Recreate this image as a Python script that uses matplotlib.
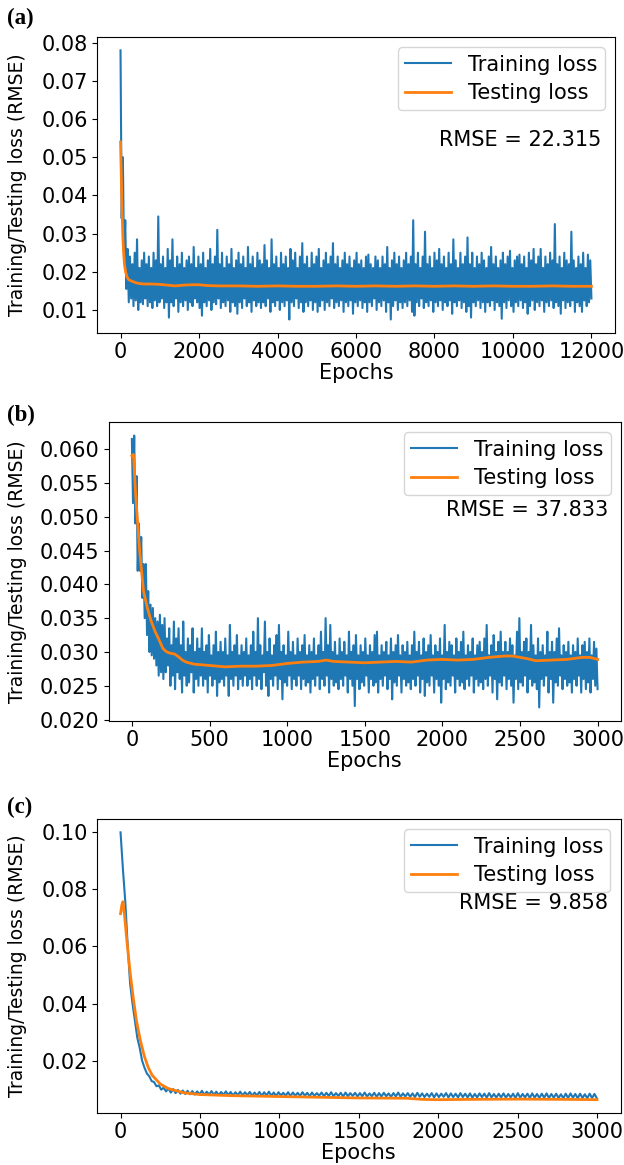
import numpy as np
import matplotlib
matplotlib.use("Agg")
import matplotlib.pyplot as plt

# (a) 12000 epochs: training loss given as alternating upper/lower swings
a_train_peaks = [
    0.078, 0.050, 0.0335, 0.026, 0.024, 0.022, 0.025, 0.0285, 0.021, 0.023,
    0.025, 0.022, 0.024, 0.021, 0.025, 0.023, 0.0345, 0.022, 0.024, 0.021,
    0.026, 0.023, 0.0285, 0.021, 0.024, 0.022, 0.025, 0.021, 0.023, 0.024,
    0.022, 0.0265, 0.021, 0.024, 0.022, 0.025, 0.021, 0.023, 0.026, 0.022,
    0.024, 0.031, 0.022, 0.025, 0.021, 0.024, 0.022, 0.026, 0.021, 0.023,
    0.025, 0.022, 0.024, 0.021, 0.0265, 0.022, 0.024, 0.021, 0.025, 0.023,
    0.022, 0.027, 0.023, 0.021, 0.0285, 0.022, 0.024, 0.021, 0.025, 0.022,
    0.024, 0.021, 0.026, 0.023, 0.025, 0.021, 0.024, 0.0275, 0.022, 0.024,
    0.021, 0.025, 0.022, 0.024, 0.026, 0.021, 0.023, 0.025, 0.022, 0.024,
    0.0275, 0.022, 0.024, 0.021, 0.023, 0.025, 0.022, 0.024, 0.021, 0.023,
    0.025, 0.022, 0.023, 0.021, 0.024, 0.0245, 0.022, 0.021, 0.024, 0.023,
    0.021, 0.024, 0.022, 0.0265, 0.021, 0.023, 0.025, 0.022, 0.024, 0.021,
    0.023, 0.025, 0.022, 0.024, 0.0335, 0.022, 0.025, 0.021, 0.024, 0.0305,
    0.022, 0.024, 0.021, 0.025, 0.023, 0.026, 0.022, 0.024, 0.021, 0.025,
    0.022, 0.0285, 0.023, 0.021, 0.025, 0.022, 0.024, 0.029, 0.022, 0.025,
    0.021, 0.024, 0.022, 0.025, 0.023, 0.021, 0.024, 0.0265, 0.022, 0.024,
    0.021, 0.023, 0.025, 0.022, 0.024, 0.0255, 0.021, 0.023, 0.024, 0.0245,
    0.022, 0.024, 0.021, 0.025, 0.023, 0.026, 0.022, 0.024, 0.026, 0.021,
    0.024, 0.022, 0.025, 0.023, 0.0325, 0.022, 0.024, 0.021, 0.025, 0.023,
    0.022, 0.0305, 0.023, 0.021, 0.024, 0.022, 0.025, 0.021, 0.0245, 0.023,
]
a_train_troughs = [
    0.034, 0.023, 0.0155, 0.012, 0.013, 0.011, 0.0125, 0.010, 0.012, 0.0115,
    0.013, 0.011, 0.012, 0.0105, 0.0125, 0.011, 0.012, 0.013, 0.0105, 0.012,
    0.008, 0.012, 0.011, 0.013, 0.0095, 0.012, 0.011, 0.0125, 0.010, 0.012,
    0.011, 0.013, 0.012, 0.0105, 0.0085, 0.012, 0.011, 0.0125, 0.010, 0.012,
    0.0115, 0.013, 0.0105, 0.012, 0.011, 0.0125, 0.0095, 0.012, 0.011, 0.009,
    0.012, 0.0105, 0.013, 0.011, 0.012, 0.0095, 0.0125, 0.011, 0.012, 0.0105,
    0.012, 0.011, 0.013, 0.0095, 0.012, 0.011, 0.0125, 0.010, 0.012, 0.011,
    0.0125, 0.0075, 0.012, 0.011, 0.013, 0.0105, 0.012, 0.0095, 0.012, 0.011,
    0.0125, 0.010, 0.012, 0.0095, 0.011, 0.0125, 0.010, 0.012, 0.011, 0.013,
    0.0105, 0.012, 0.011, 0.0125, 0.0095, 0.012, 0.011, 0.0125, 0.009, 0.012,
    0.011, 0.0125, 0.0105, 0.012, 0.0095, 0.012, 0.011, 0.013, 0.010, 0.012,
    0.011, 0.0125, 0.0095, 0.012, 0.0075, 0.011, 0.0125, 0.010, 0.012, 0.0105,
    0.012, 0.011, 0.0125, 0.0095, 0.0085, 0.012, 0.011, 0.013, 0.0105, 0.012,
    0.011, 0.0125, 0.0095, 0.012, 0.011, 0.0125, 0.010, 0.012, 0.011, 0.0125,
    0.009, 0.012, 0.011, 0.0125, 0.0105, 0.012, 0.0095, 0.011, 0.008, 0.012,
    0.011, 0.0125, 0.0105, 0.012, 0.0095, 0.012, 0.011, 0.0125, 0.010, 0.012,
    0.011, 0.0077, 0.012, 0.0105, 0.0125, 0.011, 0.0095, 0.012, 0.011, 0.0125,
    0.0105, 0.012, 0.009, 0.011, 0.0125, 0.010, 0.012, 0.011, 0.0125, 0.0095,
    0.012, 0.011, 0.0125, 0.0105, 0.012, 0.011, 0.009, 0.0125, 0.0105, 0.012,
    0.011, 0.0125, 0.0095, 0.012, 0.011, 0.0095, 0.0125, 0.011, 0.012, 0.013,
]
a_test_epochs = [0, 20, 40, 60, 80, 100, 130, 160, 200, 250, 300, 400, 500,
                 600, 800, 1000, 1200, 1400, 1600, 1800, 2000, 2200, 2500,
                 3000, 3500, 4000, 4500, 5000, 5500, 6000, 6500, 7000, 7500,
                 8000, 8500, 9000, 9500, 10000, 10500, 11000, 11500, 12000]
a_test = [0.054, 0.045, 0.036, 0.029, 0.025, 0.022, 0.020, 0.0188, 0.018,
          0.0177, 0.0175, 0.0171, 0.0169, 0.0168, 0.0168, 0.0167, 0.0165,
          0.0163, 0.0165, 0.0166, 0.0166, 0.0164, 0.0163, 0.0163, 0.0162,
          0.0163, 0.0162, 0.0162, 0.0163, 0.0162, 0.0163, 0.0162, 0.0163,
          0.0162, 0.0163, 0.0162, 0.0163, 0.0162, 0.0162, 0.0163, 0.0162,
          0.0162]

# (b) 3000 epochs
b_train_peaks = [
    0.0615, 0.062, 0.056, 0.049, 0.047, 0.043, 0.043, 0.039, 0.037, 0.0365,
    0.035, 0.0345, 0.0355, 0.034, 0.035, 0.032, 0.0335, 0.031, 0.0345, 0.032,
    0.0335, 0.031, 0.0345, 0.030, 0.032, 0.031, 0.0335, 0.030, 0.032, 0.0305,
    0.0335, 0.030, 0.031, 0.0325, 0.0295, 0.031, 0.033, 0.030, 0.0315, 0.030,
    0.032, 0.0295, 0.034, 0.030, 0.031, 0.0325, 0.0295, 0.031, 0.030, 0.032,
    0.0295, 0.031, 0.033, 0.030, 0.035, 0.031, 0.0295, 0.0345, 0.030, 0.032,
    0.0295, 0.031, 0.0325, 0.034, 0.030, 0.031, 0.0295, 0.033, 0.030, 0.0315,
    0.0295, 0.032, 0.030, 0.031, 0.0325, 0.0295, 0.031, 0.030, 0.032, 0.0295,
    0.031, 0.033, 0.030, 0.035, 0.031, 0.034, 0.030, 0.0315, 0.0295, 0.032,
    0.030, 0.0315, 0.0295, 0.033, 0.030, 0.031, 0.0325, 0.0295, 0.031, 0.030,
    0.032, 0.0295, 0.031, 0.030, 0.0325, 0.033, 0.0295, 0.031, 0.030, 0.0315,
    0.0295, 0.032, 0.030, 0.031, 0.0325, 0.0295, 0.031, 0.030, 0.0315, 0.0295,
    0.031, 0.033, 0.030, 0.0315, 0.0295, 0.032, 0.030, 0.031, 0.0325, 0.0295,
    0.031, 0.030, 0.032, 0.0295, 0.034, 0.030, 0.0315, 0.031, 0.0295, 0.032,
    0.030, 0.0315, 0.033, 0.0295, 0.031, 0.030, 0.032, 0.0295, 0.031, 0.0315,
    0.030, 0.032, 0.034, 0.0295, 0.031, 0.0325, 0.030, 0.0315, 0.033, 0.030,
    0.0315, 0.030, 0.032, 0.031, 0.0295, 0.033, 0.035, 0.030, 0.0315, 0.032,
    0.030, 0.034, 0.031, 0.0295, 0.032, 0.030, 0.031, 0.0295, 0.033, 0.030,
    0.0315, 0.030, 0.032, 0.0335, 0.0295, 0.031, 0.030, 0.0315, 0.0295, 0.031,
    0.030, 0.032, 0.0295, 0.031, 0.0315, 0.030, 0.032, 0.0295, 0.0315, 0.0305,
]
b_train_troughs = [
    0.052, 0.049, 0.042, 0.042, 0.038, 0.035, 0.0325, 0.030, 0.0295, 0.029,
    0.028, 0.0265, 0.027, 0.026, 0.027, 0.028, 0.025, 0.0265, 0.0245, 0.027,
    0.026, 0.024, 0.0265, 0.025, 0.0255, 0.027, 0.024, 0.026, 0.025, 0.0265,
    0.025, 0.026, 0.024, 0.0265, 0.025, 0.026, 0.0235, 0.0255, 0.026, 0.025,
    0.0265, 0.0235, 0.026, 0.025, 0.0265, 0.0245, 0.026, 0.025, 0.0265, 0.025,
    0.026, 0.0245, 0.0265, 0.025, 0.026, 0.0245, 0.027, 0.025, 0.0235, 0.026,
    0.025, 0.0265, 0.0245, 0.026, 0.023, 0.0255, 0.025, 0.0265, 0.0245, 0.026,
    0.025, 0.0265, 0.0245, 0.026, 0.025, 0.0255, 0.024, 0.026, 0.025, 0.0265,
    0.0245, 0.026, 0.025, 0.0265, 0.024, 0.026, 0.025, 0.0255, 0.0245, 0.026,
    0.025, 0.0265, 0.024, 0.026, 0.025, 0.022, 0.026, 0.0245, 0.0255, 0.025,
    0.0265, 0.024, 0.026, 0.025, 0.0255, 0.024, 0.026, 0.025, 0.0265, 0.0245,
    0.026, 0.023, 0.0255, 0.025, 0.0265, 0.024, 0.026, 0.025, 0.0255, 0.0245,
    0.026, 0.025, 0.0265, 0.024, 0.026, 0.0235, 0.0255, 0.025, 0.0265, 0.024,
    0.026, 0.025, 0.0225, 0.026, 0.0245, 0.0255, 0.025, 0.0265, 0.024, 0.026,
    0.025, 0.0255, 0.0245, 0.026, 0.025, 0.0265, 0.024, 0.026, 0.025, 0.0255,
    0.0245, 0.026, 0.025, 0.0265, 0.024, 0.026, 0.023, 0.0255, 0.025, 0.0265,
    0.0245, 0.026, 0.025, 0.0225, 0.026, 0.0245, 0.0255, 0.025, 0.0265, 0.024,
    0.026, 0.025, 0.0255, 0.0245, 0.0218, 0.026, 0.025, 0.0265, 0.024, 0.026,
    0.0225, 0.0255, 0.025, 0.0265, 0.0245, 0.026, 0.025, 0.0255, 0.024, 0.026,
    0.025, 0.0265, 0.024, 0.026, 0.0245, 0.0255, 0.024, 0.026, 0.025, 0.0245,
]
b_test_epochs = [0, 10, 25, 50, 75, 100, 125, 150, 175, 200, 225, 250, 275,
                 300, 325, 350, 400, 500, 600, 700, 800, 900, 1000, 1100,
                 1200, 1250, 1300, 1400, 1500, 1600, 1700, 1800, 1900, 2000,
                 2100, 2200, 2300, 2400, 2450, 2500, 2550, 2600, 2700, 2800,
                 2900, 2950, 3000]
b_test = [0.059, 0.0592, 0.053, 0.045, 0.039, 0.0365, 0.0345, 0.033, 0.0318,
          0.0305, 0.030, 0.0298, 0.0297, 0.0293, 0.0288, 0.0285, 0.0282,
          0.028, 0.0278, 0.0279, 0.0279, 0.028, 0.0283, 0.0285, 0.0286,
          0.0288, 0.0286, 0.0285, 0.0284, 0.0285, 0.0286, 0.0285, 0.0288,
          0.0289, 0.0288, 0.0289, 0.0292, 0.0294, 0.0294, 0.0292, 0.029,
          0.0287, 0.0288, 0.0289, 0.0292, 0.0292, 0.0289]

# (c) 3000 epochs
c_train_peaks = [
    0.100, 0.0755, 0.047, 0.034, 0.0245, 0.0175, 0.0145, 0.0125, 0.0113, 0.0105,
    0.0102, 0.0100, 0.0097, 0.0095, 0.0094, 0.0093, 0.0092, 0.0094, 0.0091, 0.0093,
    0.0091, 0.0090, 0.0092, 0.0090, 0.0089, 0.0091, 0.0089, 0.0090, 0.0088, 0.0090,
    0.0089, 0.0091, 0.0088, 0.0089, 0.0087, 0.0089, 0.0088, 0.0087, 0.0089, 0.0087,
    0.0088, 0.0086, 0.0088, 0.0087, 0.0089, 0.0086, 0.0087, 0.0088, 0.0086, 0.0087,
    0.0086, 0.0088, 0.0085, 0.0087, 0.0086, 0.0087, 0.0085, 0.0086, 0.0088, 0.0085,
    0.0086, 0.0085, 0.0087, 0.0085, 0.0084, 0.0086, 0.0085, 0.0084, 0.0086, 0.0085,
    0.0084, 0.0086, 0.0084, 0.0085, 0.0083, 0.0085, 0.0084, 0.0086, 0.0083, 0.0084,
    0.0085, 0.0083, 0.0084, 0.0086, 0.0083, 0.0084, 0.0085, 0.0083, 0.0084, 0.0085,
    0.0083, 0.0084, 0.0082, 0.0084, 0.0085, 0.0083, 0.0084, 0.0082, 0.0084, 0.0083,
]
c_train_troughs = [
    0.087, 0.060, 0.040, 0.028, 0.020, 0.0155, 0.0128, 0.0110, 0.0098, 0.0092,
    0.0088, 0.0086, 0.0084, 0.0083, 0.0082, 0.0081, 0.0082, 0.0080, 0.0081, 0.0080,
    0.0079, 0.0080, 0.0079, 0.0078, 0.0079, 0.0078, 0.0079, 0.0077, 0.0078, 0.0077,
    0.0078, 0.0077, 0.0076, 0.0078, 0.0077, 0.0076, 0.0077, 0.0076, 0.0077, 0.0075,
    0.0076, 0.0077, 0.0075, 0.0076, 0.0075, 0.0076, 0.0074, 0.0075, 0.0076, 0.0074,
    0.0075, 0.0074, 0.0075, 0.0073, 0.0074, 0.0075, 0.0073, 0.0074, 0.0073, 0.0074,
    0.0073, 0.0072, 0.0073, 0.0072, 0.0073, 0.0071, 0.0072, 0.0073, 0.0071, 0.0072,
    0.0071, 0.0072, 0.0071, 0.0070, 0.0071, 0.0072, 0.0070, 0.0071, 0.0070, 0.0071,
    0.0070, 0.0071, 0.0069, 0.0070, 0.0071, 0.0069, 0.0070, 0.0069, 0.0070, 0.0069,
    0.0070, 0.0069, 0.0068, 0.0069, 0.0070, 0.0068, 0.0069, 0.0068, 0.0069, 0.0068,
]
c_test_epochs = [0, 8, 15, 25, 40, 60, 80, 100, 125, 150, 175, 200, 250, 300,
                 400, 500, 700, 1000, 1300, 1500, 1800, 1900, 2000, 2200,
                 2500, 2800, 3000]
c_test = [0.0715, 0.0745, 0.0757, 0.071, 0.062, 0.051, 0.042, 0.034, 0.027,
          0.0215, 0.0175, 0.0148, 0.0118, 0.0102, 0.0087, 0.0081, 0.0077,
          0.0074, 0.0071, 0.0069, 0.0068, 0.0064, 0.0063, 0.0064, 0.0065,
          0.0064, 0.0063]

rmse_labels = ["RMSE = 22.315", "RMSE = 37.833", "RMSE = 9.858"]
panel_tags = ["(a)", "(b)", "(c)"]


def zigzag(peaks, troughs, last_epoch):
    y = np.column_stack([peaks, troughs]).ravel()
    x = np.linspace(0, last_epoch, len(y))
    return x, y


fig = plt.figure(figsize=(6.24, 11.65), dpi=100)
rects = [
    [0.1554, 0.7142, 0.8302, 0.2541],
    [0.1740, 0.3811, 0.8212, 0.2567],
    [0.1550, 0.0446, 0.8399, 0.2524],
]
tag_y = [1 - 18 / 1165, 1 - 415 / 1165, 1 - 807 / 1165]
text_pos = [(0.973, 0.652), (0.975, 0.706), (0.976, 0.714)]

series = [
    (zigzag(a_train_peaks, a_train_troughs, 11999), (a_test_epochs, a_test)),
    (zigzag(b_train_peaks, b_train_troughs, 2999), (b_test_epochs, b_test)),
    (zigzag(c_train_peaks, c_train_troughs, 2999), (c_test_epochs, c_test)),
]

fs = 15
for k, ((train, test), rect) in enumerate(zip(series, rects)):
    ax = fig.add_axes(rect)
    ax.plot(train[0], train[1], color="#1f77b4", lw=1.5, label="Training loss")
    ax.plot(test[0], test[1], color="#ff7f0e", lw=2.0, label="Testing loss")

    if k == 0:
        ax.set_xticks(np.arange(0, 12001, 2000))
        ax.set_yticks(np.arange(0.01, 0.081, 0.01))
        ax.set_yticklabels([f"{v:.2f}" for v in np.arange(0.01, 0.081, 0.01)])
    elif k == 1:
        ax.set_xticks(np.arange(0, 3001, 500))
        ax.set_yticks(np.arange(0.020, 0.0601, 0.005))
        ax.set_yticklabels([f"{v:.3f}" for v in np.arange(0.020, 0.0601, 0.005)])
    else:
        ax.set_xticks(np.arange(0, 3001, 500))
        ax.set_yticks(np.arange(0.02, 0.101, 0.02))
        ax.set_yticklabels([f"{v:.2f}" for v in np.arange(0.02, 0.101, 0.02)])

    ax.tick_params(labelsize=fs, pad=3)
    ax.set_xlabel("Epochs", fontsize=fs, labelpad=1)
    ax.set_ylabel("Training/Testing loss (RMSE)", fontsize=13.5)
    ax.yaxis.set_label_coords(0.043, rect[1] + rect[3] / 2,
                              transform=fig.transFigure)
    ax.legend(loc="upper right", fontsize=fs, handlelength=2.2,
              labelspacing=0.4, borderpad=0.35)
    ax.text(text_pos[k][0], text_pos[k][1], rmse_labels[k], transform=ax.transAxes,
            ha="right", va="center", fontsize=fs)
    fig.text(0.012, tag_y[k], panel_tags[k], family="Liberation Serif",
             fontweight="bold", fontsize=16.5, va="center", ha="left")

fig.savefig("out.png", dpi=100)
